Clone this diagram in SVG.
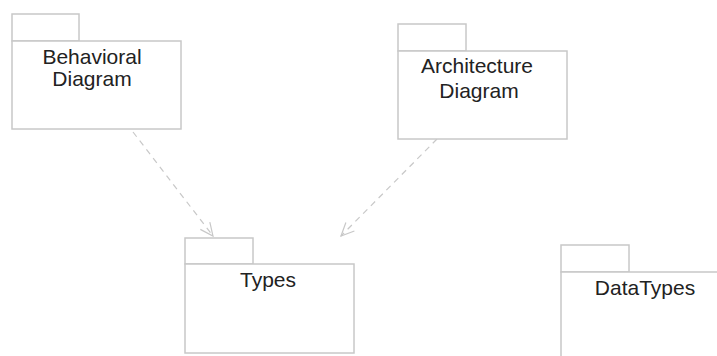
<svg xmlns="http://www.w3.org/2000/svg" width="717" height="356" viewBox="0 0 717 356">
<style>
.pk{fill:#fff;stroke:#c8c8c8;stroke-width:1.5}
.t{font-family:"Liberation Sans",Arial,sans-serif;font-size:21px;fill:#222;text-anchor:middle}
.dep{fill:none;stroke:#c8c8c8;stroke-width:1.2;stroke-dasharray:6,5}
</style>
<defs>
<marker id="open" markerWidth="16" markerHeight="16" refX="14" refY="8" orient="auto" markerUnits="userSpaceOnUse">
<path d="M1,2 L14,8 L1,14" fill="none" stroke="#c8c8c8" stroke-width="1.2"/>
</marker>
</defs>
<rect width="717" height="356" fill="#fff"/>
<g id="connectors">
<line class="dep" x1="133" y1="132" x2="213" y2="236" marker-end="url(#open)"/>
<line class="dep" x1="437" y1="139" x2="341" y2="236" marker-end="url(#open)"/>
</g>
<g id="behavioral">
<rect class="pk" x="12" y="14" width="67" height="27"/>
<rect class="pk" x="12" y="41" width="169" height="88"/>
<text class="t" x="92" y="64">Behavioral</text>
<text class="t" x="92" y="86">Diagram</text>
</g>
<g id="architecture">
<rect class="pk" x="398" y="24" width="68" height="27"/>
<rect class="pk" x="398" y="51" width="169" height="88"/>
<text class="t" x="477" y="73">Architecture</text>
<text class="t" x="479" y="98">Diagram</text>
</g>
<g id="types">
<rect class="pk" x="185" y="238" width="68" height="26"/>
<rect class="pk" x="185" y="264" width="169" height="89"/>
<text class="t" x="268" y="287">Types</text>
</g>
<g id="datatypes">
<rect class="pk" x="561" y="245" width="68" height="27"/>
<rect class="pk" x="561" y="272" width="170" height="100"/>
<text class="t" x="645" y="295">DataTypes</text>
</g>
</svg>
